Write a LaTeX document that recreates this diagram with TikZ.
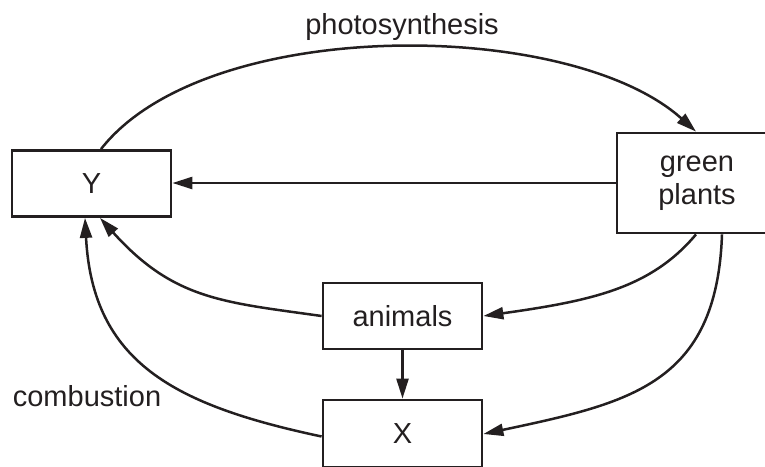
\documentclass[tikz,border=0pt]{standalone}
\usepackage{fontspec}
\setmainfont{Liberation Sans}
\usetikzlibrary{arrows.meta}
\definecolor{ink}{HTML}{231F20}
\begin{document}
\begin{tikzpicture}[x=1pt,y=1pt,
  every node/.style={text=ink, font=\fontsize{29}{33}\selectfont},
  box/.style={draw=ink, line width=2.8pt, inner sep=0pt, minimum width=159pt, minimum height=66pt, align=center},
  link/.style={draw=ink, line width=2.5pt, -{Triangle[length=20pt,width=12pt]}}
]
\useasboundingbox (0,0) rectangle (765,-466);
\node[box] (Y) at (91.5,-183.5) {Y};
\node[box, minimum width=160pt, minimum height=100pt] (G) at (697,-183) {green\\plants};
\node[box] (A) at (402.5,-316) {animals};
\node[box, minimum height=67pt] (X) at (402.5,-433.5) {X};
\node[anchor=base] (ph) at (402,-34) {photosynthesis};
\node[anchor=base] (co) at (87,-406) {combustion};
% photosynthesis arc
\draw[link] ([xshift=9.5pt]Y.north) .. controls +(52:170) and +(138:170) .. ([xshift=-1pt]G.north);
% green plants -> Y
\draw[link] (G.west) -- (G.west -| Y.east);
% animals -> Y
\draw[link] (A.west) .. controls +(172:100) and +(-48:110) .. ([xshift=8.5pt]Y.south);
% X -> Y (combustion)
\draw[link] ([yshift=-3pt]X.west) .. controls +(168:150) and +(-87:145) .. ([xshift=-6.5pt]Y.south);
% green plants -> animals
\draw[link] ([xshift=-1pt]G.south) .. controls +(230:70) and +(8:110) .. (A.east);
% green plants -> X
\draw[link] ([xshift=25pt]G.south) .. controls +(268:150) and +(12:150) .. ([yshift=-0.5pt]X.east);
% animals -> X
\draw[link] (A.south) -- (X.north);
\end{tikzpicture}
\end{document}
